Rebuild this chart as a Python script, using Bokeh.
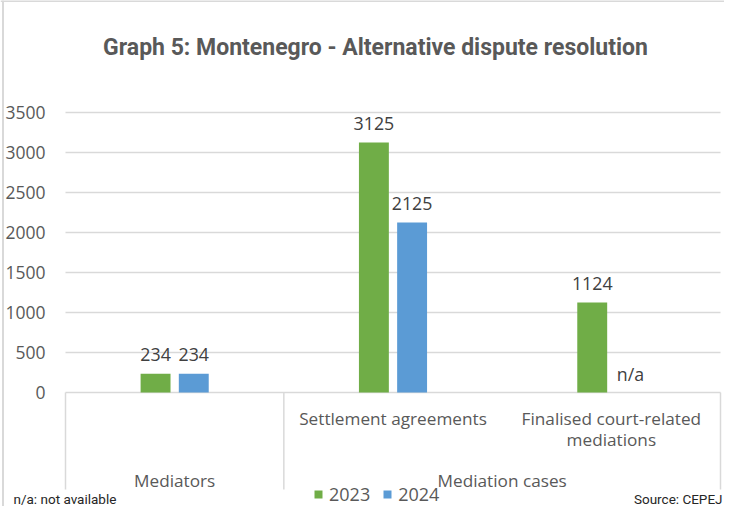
from bokeh.plotting import figure
from bokeh.models import Range1d, FixedTicker, Label, Legend, LegendItem, ColumnDataSource, Span
from bokeh.core.properties import value
from bokeh.embed import file_html
from bokeh.resources import INLINE

# ---- data ----
categories = ["Mediators", "Settlement agreements", "Finalised court-related\nmediations"]
groups = ["Mediators", "Mediation cases", "Mediation cases"]
series = ["2023", "2024"]
values_2023 = [234, 3125, 1124]
values_2024 = [234, 2125, None]   # None = n/a
y_ticks = [0, 500, 1000, 1500, 2000, 2500, 3000, 3500]
title_text = "Graph 5: Montenegro - Alternative dispute resolution"
note_text = "n/a: not available"
source_text = "Source: CEPEJ"

GREEN = "#70AD47"
BLUE = "#5B9BD5"
GRID = "#d9d9d9"
TXT = "#595959"
LBL = "#404040"
FONT = "Open Sans"

W, H = 724, 506
PX_X = 655 / 3          # pixels per category
PX_Y = 0.08             # pixels per value unit
X0_PX = 65              # pixel position of category axis start
Y0_PX = 392             # pixel position of value 0 (canvas)
DY = 1                  # canvas -> picture vertical shift

def xd(px):
    return (px - X0_PX) / PX_X

def yd(py):
    # py given in picture pixels
    return (Y0_PX - (py - DY)) / PX_Y

p = figure(width=W, height=H,
           x_range=Range1d(xd(0), xd(W)),
           y_range=Range1d((Y0_PX - H) / PX_Y, Y0_PX / PX_Y),
           output_backend="svg", toolbar_location=None, x_axis_location=None,
           min_border_left=0, min_border_right=0, min_border_top=0, min_border_bottom=0)
p.outline_line_color = None
p.background_fill_color = "white"
p.border_fill_color = "white"

# chart border (left and top edges)
p.add_layout(Span(location=xd(2.5), dimension="height", line_color=GRID, line_width=2))
p.add_layout(Span(location=yd(1.5), dimension="width", line_color=GRID, line_width=2))

# y axis drawn at the start of the category axis
p.yaxis.fixed_location = 0
p.yaxis.ticker = FixedTicker(ticks=y_ticks)
p.yaxis.axis_line_color = None
p.yaxis.major_tick_line_color = None
p.yaxis.minor_tick_line_color = None
p.yaxis.major_label_standoff = 14
p.yaxis.major_label_text_font = FONT
p.yaxis.major_label_text_font_size = "17.5px"
p.yaxis.major_label_text_color = TXT
p.ygrid.grid_line_color = GRID
p.ygrid.grid_line_width = 1.5
p.ygrid.cross_bounds = (0, len(categories))
p.xgrid.visible = False

centers = [i + 0.5 for i in range(len(categories))]
off = 0.0875
bw = 0.137

x23 = [c - off for c in centers]
x24 = [c + off for c in centers]

src23 = ColumnDataSource(dict(x=x23, top=values_2023))
b24_x = [x for x, v in zip(x24, values_2024) if v is not None]
b24_v = [v for v in values_2024 if v is not None]
src24 = ColumnDataSource(dict(x=b24_x, top=b24_v))

r23 = p.vbar(x="x", top="top", bottom=0, width=bw, source=src23, fill_color=GREEN, line_color=None)
r24 = p.vbar(x="x", top="top", bottom=0, width=bw, source=src24, fill_color=BLUE, line_color=None)

# data labels
lab_x = x23 + x24
lab_y = values_2023 + [v if v is not None else 0 for v in values_2024]
lab_t = [str(v) for v in values_2023] + [str(v) if v is not None else "n/a" for v in values_2024]
p.text(x=lab_x, y=lab_y, text=lab_t, y_offset=-19, text_align="center", text_baseline="middle",
       text_font=value(FONT), text_font_size="17.8px", text_color=LBL)

# category axis (two levels)
inner = ["" if c == g else c for c, g in zip(categories, groups)]
p.text(x=centers, y=[yd(407)] * len(categories), text=inner, text_align="center",
       text_baseline="top", text_line_height=0.92,
       text_font=value(FONT), text_font_size="17.2px", text_color=TXT)

bounds = [0]
for i in range(1, len(groups)):
    if groups[i] != groups[i - 1]:
        bounds.append(i)
bounds.append(len(groups))
gnames = [groups[b] for b in bounds[:-1]]
gcent = [(a + b) / 2 for a, b in zip(bounds[:-1], bounds[1:])]
p.text(x=gcent, y=[yd(481)] * len(gnames), text=gnames, text_align="center", text_baseline="middle",
       text_font=value(FONT), text_font_size="17.2px", text_color=TXT)
p.segment(x0=bounds, y0=[0] * len(bounds), x1=bounds, y1=[yd(490)] * len(bounds),
          line_color=GRID, line_width=1.5)

# legend
legend = Legend(items=[LegendItem(label=series[0], renderers=[r23]),
                       LegendItem(label=series[1], renderers=[r24])],
                orientation="horizontal", location=(313, 0), padding=0, margin=0,
                spacing=12, label_standoff=6, glyph_width=10, glyph_height=10,
                label_text_font=FONT, label_text_font_size="18px", label_text_color=TXT,
                border_line_color=None, background_fill_alpha=0)
p.add_layout(legend, "center")

# title & footnotes
p.add_layout(Label(x=xd(375), y=yd(48), text=title_text, text_align="center", text_baseline="middle",
                   text_font="Roboto", text_font_style="bold", text_font_size="23px", text_color=TXT))
p.add_layout(Label(x=xd(13), y=yd(499), text=note_text, text_align="left", text_baseline="middle",
                   text_font="Roboto", text_font_size="13.5px", text_color="#262626"))
p.add_layout(Label(x=xd(722), y=yd(499), text=source_text, text_align="right", text_baseline="middle",
                   text_font="Roboto", text_font_size="13.5px", text_color="#262626"))

open("out.html", "w").write(file_html(p, INLINE))
